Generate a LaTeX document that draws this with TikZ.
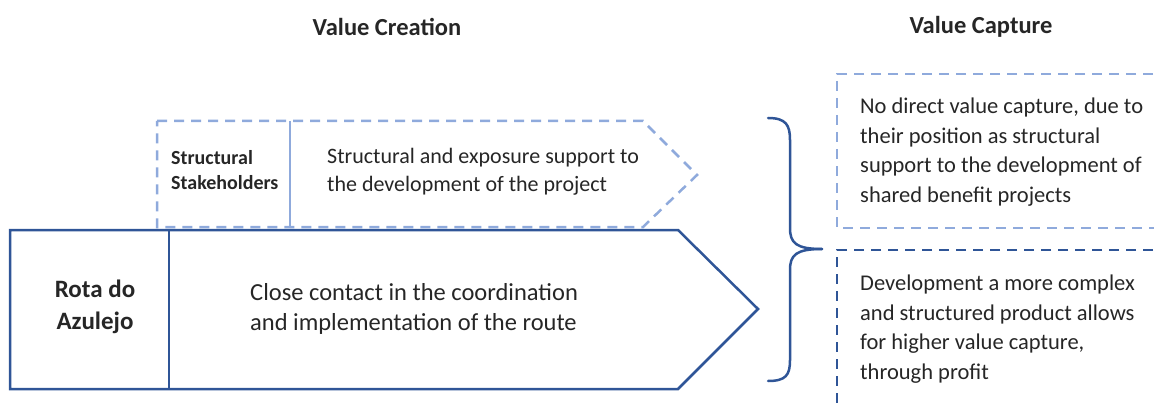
\documentclass[tikz,border=0pt]{standalone}
\usepackage{fontspec}
\setmainfont{Carlito}
\definecolor{lightb}{HTML}{8FAADC}
\definecolor{darkb}{HTML}{2F5597}
\definecolor{txt}{HTML}{262626}
\tikzset{
  lightline/.style={draw=lightb, line width=2.5pt},
  darkline/.style={draw=darkb, line width=2.5pt},
  dashes/.style={dash pattern=on 10pt off 7pt},
  title/.style={text=txt, font=\fontsize{24.5}{28}\selectfont\bfseries, inner sep=0pt},
  bodytext/.style={text=txt, align=left, anchor=west, inner sep=0pt},
}
\begin{document}
\begin{tikzpicture}[x=1pt,y=-1pt]
\useasboundingbox (0,0) rectangle (1154,409);
\clip (0,0) rectangle (1154,409);
% titles
\node[title] (tcre) at (387,27) {Value Creation};
\node[title] (tcap) at (981,27) {Value Capture};
% light dashed pentagon
\draw[lightline, dashes] (157,121) -- (643,121) -- (697,175) -- (643,227) -- (157,227) -- cycle;
\draw[lightline] (290,121) -- (290,227);
% dark solid pentagon
\draw[darkline] (10,230) -- (678,230) -- (758,309) -- (678,389) -- (10,389) -- cycle;
\draw[darkline] (169,230) -- (169,389);
% texts in pentagons
\node[bodytext, font=\fontsize{20}{25}\selectfont\bfseries] (ss) at (171,170) {Structural\\Stakeholders};
\node[bodytext, font=\fontsize{22}{28}\selectfont] (sst) at (327,172) {Structural and exposure support to\\the development of the project};
\node[text=txt, align=center, inner sep=0pt, font=\fontsize{25}{32}\selectfont\bfseries] (rota) at (95,307) {Rota do\\Azulejo};
\node[bodytext, font=\fontsize{24.5}{30}\selectfont] (close) at (250,309) {Close contact in the coordination\\and implementation of the route};
% brace
\coordinate (tip) at (822,249);
\draw[darkline, line cap=round] (768,118) .. controls (786,118) and (790,125) .. (790,140) -- (790,228) .. controls (790,243) and (796,249) .. (tip);
\draw[darkline, line cap=round] (tip) .. controls (796,249) and (790,255) .. (790,270) -- (790,360) .. controls (790,375) and (786,381) .. (768,381);
% right boxes
\draw[lightline, dashes] (1170,74) -- (837,74) -- (837,228) -- (1170,228);
\draw[darkline, dashes] (1170,250) -- (837,250) -- (837,420);
\node[bodytext, font=\fontsize{22.5}{29.5}\selectfont] (capA) at (860,152) {No direct value capture, due to\\their position as structural\\support to the development of\\shared benefit projects};
\node[bodytext, font=\fontsize{22.5}{29.5}\selectfont] (capB) at (860,329) {Development a more complex\\and structured product allows\\for higher value capture,\\through profit};
\end{tikzpicture}
\end{document}
